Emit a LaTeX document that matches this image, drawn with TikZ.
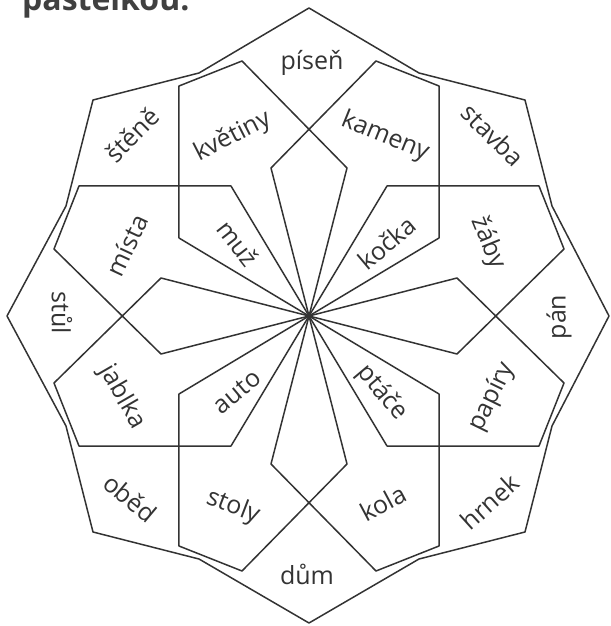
\documentclass[tikz,border=0pt]{standalone}
\usepackage{fontspec}
\setmainfont{Open Sans}
\begin{document}
\begin{tikzpicture}[x=1pt, y=1pt,
  rim/.style={draw=black!80, line width=1.5pt, line join=round},
  word/.style={font=\fontsize{25}{30}\selectfont, text=black!80, inner sep=0pt},
  title/.style={font=\bfseries\fontsize{32}{38}\selectfont, text=black!75, inner sep=0pt}
]
\useasboundingbox (-309,-310) rectangle (301,316);
\clip (-309,-310) rectangle (301,316);

% Petals
\foreach \r in {0,90,180,270}{
  \draw[rim, rotate=\r] (0,0) -- (-130,78) -- (-130,230) -- (-67,255) -- (38,148) -- cycle;
  \draw[rim, rotate=\r, xscale=-1] (0,0) -- (-130,78) -- (-130,230) -- (-67,255) -- (38,148) -- cycle;
}

% Outer outline
\draw[rim] (0,308) -- (-110,243) -- (-216,216) -- (-243,110) -- (-302,0)
  -- (-243,-110) -- (-216,-216) -- (-110,-243) -- (0,-307)
  -- (110,-243) -- (216,-216) -- (243,-110) -- (300,0)
  -- (243,110) -- (216,216) -- (110,243) -- cycle;

% Words
\node[word] (pisen) at (3,253) {píseň};
\node[word, rotate=45] (stene) at (-177,181) {štěně};
\node[word, rotate=27] (kvetiny) at (-76,179) {květiny};
\node[word, rotate=-22] (kameny) at (76,179) {kameny};
\node[word, rotate=-45] (stavba) at (184,181) {stavba};
\node[word, rotate=65] (mista) at (-182,71) {místa};
\node[word, rotate=-52] (muz) at (-71,73) {muž};
\node[word, rotate=40] (kocka) at (78,73) {kočka};
\node[word, rotate=-68] (zaby) at (179,73) {žáby};
\node[word, rotate=-90] (stul) at (-247,3) {stůl};
\node[word, rotate=90] (pan) at (250,-1) {pán};
\node[word, rotate=-60] (jablka) at (-187,-81) {jablka};
\node[word, rotate=40] (auto) at (-72,-76) {auto};
\node[word, rotate=-50] (ptace) at (73,-77) {ptáče};
\node[word, rotate=64] (papiry) at (183,-81) {papíry};
\node[word, rotate=-40] (obed) at (-179,-182) {oběd};
\node[word, rotate=-21] (stoly) at (-76,-191) {stoly};
\node[word, rotate=28] (kola) at (74,-187) {kola};
\node[word, rotate=42] (hrnek) at (181,-186) {hrnek};
\node[word] (dum) at (-2,-258) {dům};

% Heading, cut by the top edge
\node[title, anchor=base west] (pastelkou) at (-287,305) {pastelkou.};
\end{tikzpicture}
\end{document}
